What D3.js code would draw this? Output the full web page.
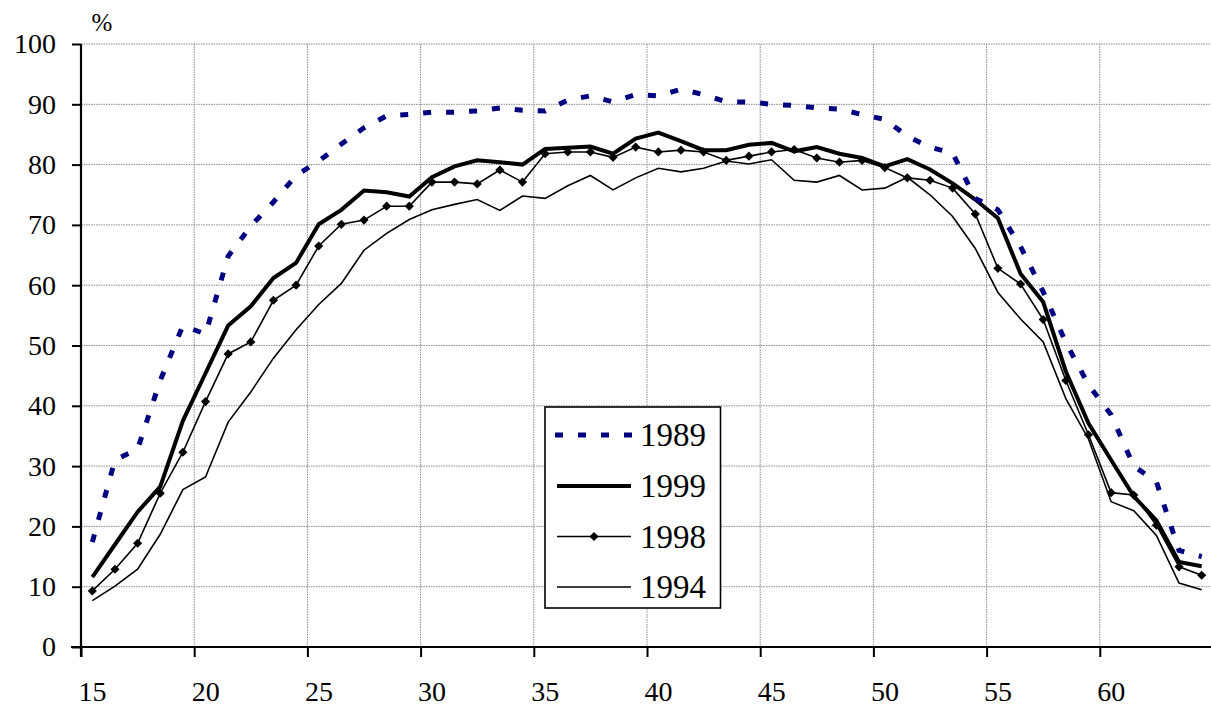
<!DOCTYPE html>
<html>
<head>
<meta charset="utf-8">
<script src="https://cdn.jsdelivr.net/npm/d3@7"></script>
<style>
  html, body { margin: 0; padding: 0; background: #fff; }
  svg { display: block; }
  svg text { font-family: 'Liberation Serif', 'DejaVu Serif', serif !important; fill: #000; }
</style>
</head>
<body>
<svg id="chart" width="1211" height="710"></svg>
<script>
// Age points (mid-year of age)
const ages = [15.5,16.5,17.5,18.5,19.5,20.5,21.5,22.5,23.5,24.5,25.5,26.5,27.5,28.5,29.5,30.5,31.5,32.5,33.5,34.5,
  35.5,36.5,37.5,38.5,39.5,40.5,41.5,42.5,43.5,44.5,45.5,46.5,47.5,48.5,49.5,50.5,51.5,52.5,53.5,54.5,
  55.5,56.5,57.5,58.5,59.5,60.5,61.5,62.5,63.5,64.5];

const y1989 = [17.4,31,32.8,44.2,53.3,51.9,64.8,69.8,73.8,78.2,80.6,83.4,86.1,88.1,88.3,88.7,88.7,88.9,89.4,89.0,
  88.9,90.7,91.4,90.4,91.6,91.4,92.5,91.6,90.4,90.4,90.0,89.8,89.4,89.2,88.3,87.5,84.7,82.9,81.9,74.4,
  72.5,66.4,58.9,50.5,43.5,38.5,30,27.4,16,15];

const y1999 = [11.6,17,22.4,26.6,37.5,45.4,53.3,56.5,61.2,63.7,70.1,72.5,75.7,75.4,74.7,77.9,79.7,80.7,80.4,80.0,
  82.6,82.8,83.0,81.8,84.3,85.3,83.9,82.4,82.4,83.3,83.6,82.2,82.9,81.8,81.1,79.7,80.9,79.2,76.9,74.2,
  71.1,61.9,57.2,45.7,37.1,31,25,21,14.1,13.4];

const y1998 = [9.3,12.9,17.2,25.5,32.3,40.7,48.6,50.6,57.5,60,66.5,70.1,70.8,73.1,73.1,77.1,77.1,76.8,79.1,77.1,
  81.8,82.1,82.1,81.2,82.9,82.1,82.4,82.1,80.7,81.4,82.1,82.5,81.1,80.4,80.7,79.5,77.8,77.4,76.1,71.8,
  62.8,60.2,54.3,44.2,35.2,25.6,25.2,20.2,13.3,11.9];

const y1994 = [7.7,10.1,12.9,18.7,26.1,28.2,37.3,42.3,47.9,52.6,56.8,60.3,65.8,68.6,70.9,72.5,73.4,74.2,72.4,74.8,
  74.4,76.5,78.2,75.8,77.8,79.4,78.8,79.4,80.6,80.1,80.8,77.4,77.1,78.2,75.8,76.1,77.9,75.0,71.4,66.1,
  58.8,54.4,50.6,41.2,34.5,24.1,22.6,18.5,10.6,9.5];

const xTicks = [15,20,25,30,35,40,45,50,55,60];
const yTicks = [0,10,20,30,40,50,60,70,80,90,100];
const seriesNames = ["1989","1999","1998","1994"];

const FONT = "'Liberation Serif', 'DejaVu Serif', serif";
const svg = d3.select("#chart");
const x = d3.scaleLinear().domain([15, 65]).range([81, 1213]);
const y = d3.scaleLinear().domain([0, 100]).range([647, 44]);

// Grid
const grid = svg.append("g");
grid.selectAll(".hg").data(yTicks.filter(d => d > 0)).enter().append("line")
  .attr("x1", x(15)).attr("x2", 1211)
  .attr("y1", d => y(d)).attr("y2", d => y(d))
  .attr("stroke", "#8a8a8a").attr("stroke-width", 1).attr("stroke-dasharray", "1.5,1");
grid.selectAll(".vg").data(xTicks.filter(d => d > 15)).enter().append("line")
  .attr("x1", d => x(d)).attr("x2", d => x(d))
  .attr("y1", y(100)).attr("y2", y(0))
  .attr("stroke", "#8a8a8a").attr("stroke-width", 1).attr("stroke-dasharray", "1.5,1");

// Axes
const xAxis = d3.axisBottom(x).tickValues(xTicks).tickSize(10).tickPadding(24).tickFormat(d3.format("d"));
const gx = svg.append("g").attr("transform", `translate(0,${y(0)})`).call(xAxis)
  .attr("font-family", FONT);
gx.select(".domain").remove();
gx.selectAll(".tick line").attr("stroke", "#000").attr("stroke-width", 2);
gx.selectAll(".tick text").attr("font-size", 28).attr("dx", 11).style("font-family", FONT);
svg.append("line").attr("x1", 71).attr("x2", 1211).attr("y1", y(0)).attr("y2", y(0))
  .attr("stroke", "#000").attr("stroke-width", 2.2);

const yAxis = d3.axisLeft(y).tickValues(yTicks).tickSize(9).tickPadding(16).tickFormat(d3.format("d"));
const gy = svg.append("g").attr("transform", `translate(${x(15)},0)`).call(yAxis)
  .attr("font-family", FONT);
gy.select(".domain").remove();
gy.selectAll(".tick line").attr("stroke", "#000").attr("stroke-width", 2);
gy.selectAll(".tick text").attr("font-size", 28).style("font-family", FONT);
svg.append("line").attr("x1", x(15)).attr("x2", x(15)).attr("y1", y(100)).attr("y2", y(0) + 10)
  .attr("stroke", "#000").attr("stroke-width", 2.2);

svg.append("text").attr("x", 102).attr("y", 31).attr("text-anchor", "middle")
  .attr("font-size", 25).style("font-family", FONT).text("%");

// Lines
const line = d3.line().x((d, i) => x(ages[i])).y(d => y(d));

svg.append("path").datum(y1994).attr("d", line).attr("fill", "none")
  .attr("stroke", "#000").attr("stroke-width", 1.6);
svg.append("path").datum(y1998).attr("d", line).attr("fill", "none")
  .attr("stroke", "#000").attr("stroke-width", 1.6);
svg.append("g").selectAll("path").data(y1998).enter().append("path")
  .attr("d", d3.symbol().type(d3.symbolSquare).size(42))
  .attr("transform", (d, i) => `translate(${x(ages[i])},${y(d)}) rotate(45)`)
  .attr("fill", "#000");
svg.append("path").datum(y1999).attr("d", line).attr("fill", "none")
  .attr("stroke", "#000").attr("stroke-width", 4);
svg.append("path").datum(y1989).attr("d", line).attr("fill", "none")
  .attr("stroke", "#000080").attr("stroke-width", 5).attr("stroke-dasharray", "8,15");

// Legend
const lg = svg.append("g");
lg.append("rect").attr("x", 545).attr("y", 407).attr("width", 175.5).attr("height", 201)
  .attr("fill", "#fff").attr("stroke", "#000").attr("stroke-width", 1.6);
const rowsY = [435, 486, 536.5, 587];
const styles = [
  {stroke: "#000080", w: 5, dash: "8,15", marker: false},
  {stroke: "#000", w: 4, dash: null, marker: false},
  {stroke: "#000", w: 1.6, dash: null, marker: true},
  {stroke: "#000", w: 1.6, dash: null, marker: false}
];
seriesNames.forEach((name, i) => {
  const s = styles[i];
  const l = lg.append("line").attr("x1", 557).attr("x2", 631).attr("y1", rowsY[i]).attr("y2", rowsY[i])
    .attr("stroke", s.stroke).attr("stroke-width", s.w);
  if (s.dash) l.attr("stroke-dasharray", s.dash).attr("x1", 555).attr("x2", 640);
  if (s.marker) lg.append("path").attr("d", d3.symbol().type(d3.symbolSquare).size(42))
    .attr("transform", `translate(594,${rowsY[i]}) rotate(45)`).attr("fill", "#000");
  lg.append("text").attr("x", 640).attr("y", rowsY[i] + 11).attr("font-size", 33)
    .style("font-family", FONT).text(name);
});
</script>
</body>
</html>
